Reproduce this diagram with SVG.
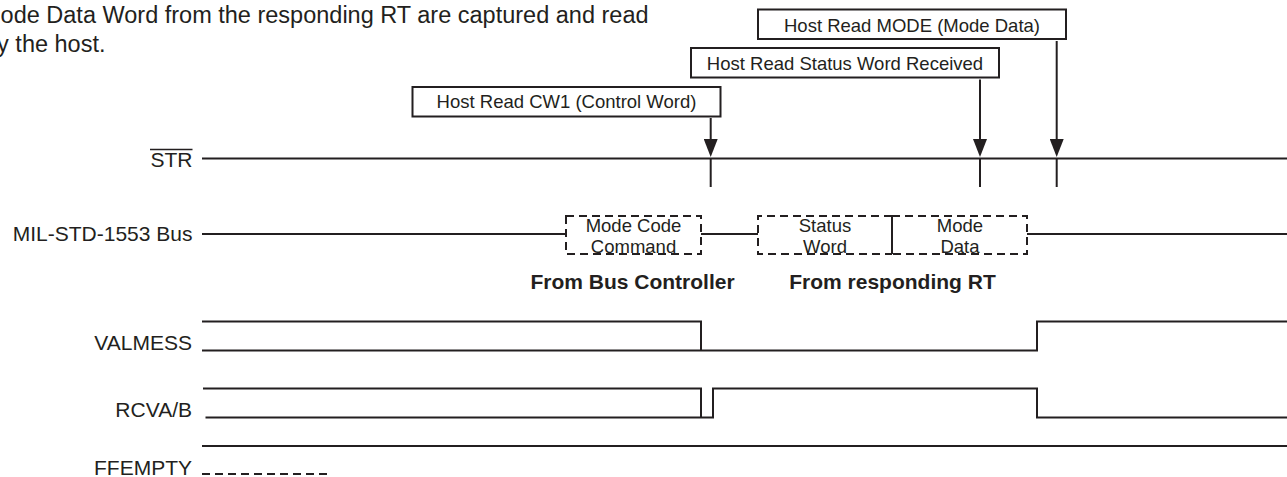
<svg xmlns="http://www.w3.org/2000/svg" width="1287" height="477" viewBox="0 0 1287 477">
<style>
text{font-family:"Liberation Sans",Arial,Helvetica,sans-serif;fill:#231f20}
.lbl{font-size:21px;text-anchor:end}
.box{font-size:18.5px;text-anchor:middle}
.para{font-size:23.5px}
.bold{font-size:21px;font-weight:bold;text-anchor:middle}
.sig{fill:none;stroke:#231f20;stroke-width:2}
.rect{fill:#fff;stroke:#231f20;stroke-width:2}
.dash{fill:none;stroke:#231f20;stroke-width:2;stroke-dasharray:8 5}
.arrow{stroke:#231f20;stroke-width:2;fill:none;marker-end:url(#ah)}
</style>
<defs>
<marker id="ah" markerUnits="userSpaceOnUse" markerWidth="18" markerHeight="14" refX="11" refY="7" orient="auto" viewBox="0 0 18 14">
<path d="M0,0 L18,7 L0,14 z" fill="#231f20"/>
</marker>
</defs>
<rect width="1287" height="477" fill="#fff"/>

<g id="caption">
<text class="para" x="-19" y="23">Mode Data Word from the responding RT are captured and read</text>
<text class="para" x="-16" y="52">by the host.</text>
</g>

<g id="box-mode">
<rect class="rect" x="758" y="9.5" width="308" height="29.5"/>
<text class="box" x="912" y="31.5">Host Read MODE (Mode Data)</text>
</g>
<g id="box-status">
<rect class="rect" x="691" y="48" width="308" height="29.5"/>
<text class="box" x="845" y="69.5">Host Read Status Word Received</text>
</g>
<g id="box-cw1">
<rect class="rect" x="412.5" y="87" width="308" height="29.5"/>
<text class="box" x="566.5" y="108">Host Read CW1 (Control Word)</text>
</g>

<g id="sig-str">
<text class="lbl" x="192.5" y="167">STR</text>
<line x1="150" y1="149.5" x2="192.5" y2="149.5" stroke="#231f20" stroke-width="1.6"/>
<line class="sig" x1="202" y1="158.5" x2="1287" y2="158.5"/>
<line class="sig" x1="710.7" y1="158.5" x2="710.7" y2="187"/>
<line class="sig" x1="980" y1="158.5" x2="980" y2="187"/>
<line class="sig" x1="1056.7" y1="158.5" x2="1056.7" y2="187"/>
</g>

<g id="sig-bus">
<text class="lbl" x="192.5" y="241">MIL-STD-1553 Bus</text>
<line class="sig" x1="202" y1="234" x2="566" y2="234"/>
<line class="sig" x1="701" y1="234" x2="758" y2="234"/>
<line class="sig" x1="1027" y1="234" x2="1287" y2="234"/>
</g>

<g id="word-modecode">
<rect class="dash" x="566" y="216" width="135" height="38"/>
<text class="box" x="633.5" y="231.5">Mode Code</text>
<text class="box" x="633.5" y="252.5">Command</text>
</g>
<g id="word-status">
<path class="dash" d="M892,216 H758 V254 H892"/>
<text class="box" x="825" y="231.5">Status</text>
<text class="box" x="825" y="252.5">Word</text>
</g>
<g id="word-modedata">
<path class="dash" d="M892,216 H1027 V254 H892"/>
<line class="sig" x1="892" y1="216" x2="892" y2="254"/>
<text class="box" x="960" y="231.5">Mode</text>
<text class="box" x="960" y="252.5">Data</text>
</g>

<g id="src-bc">
<text class="bold" x="632.5" y="289">From Bus Controller</text>
</g>
<g id="src-rt">
<text class="bold" x="892.5" y="289">From responding RT</text>
</g>

<g id="sig-valmess">
<text class="lbl" x="192" y="350">VALMESS</text>
<path class="sig" d="M202,321.5 H701 V350.5"/>
<path class="sig" d="M202,350.5 H1037 V321.5 H1287"/>
</g>

<g id="sig-rcva">
<text class="lbl" x="192" y="417">RCVA/B</text>
<path class="sig" d="M203,388.5 H701 V417.5"/>
<path class="sig" d="M205.5,417.5 H713 V388.5 H1037 V417.5 H1287"/>
</g>

<g id="sig-ffempty">
<text class="lbl" x="192" y="475">FFEMPTY</text>
<line class="sig" x1="202" y1="446" x2="1287" y2="446"/>
<line class="dash" x1="202" y1="474" x2="332" y2="474"/>
</g>

<g id="connectors">
<line class="arrow" x1="710.7" y1="118" x2="710.7" y2="150"/>
<line class="arrow" x1="980" y1="79.5" x2="980" y2="150"/>
<line class="arrow" x1="1056.7" y1="41" x2="1056.7" y2="150"/>
</g>
</svg>
